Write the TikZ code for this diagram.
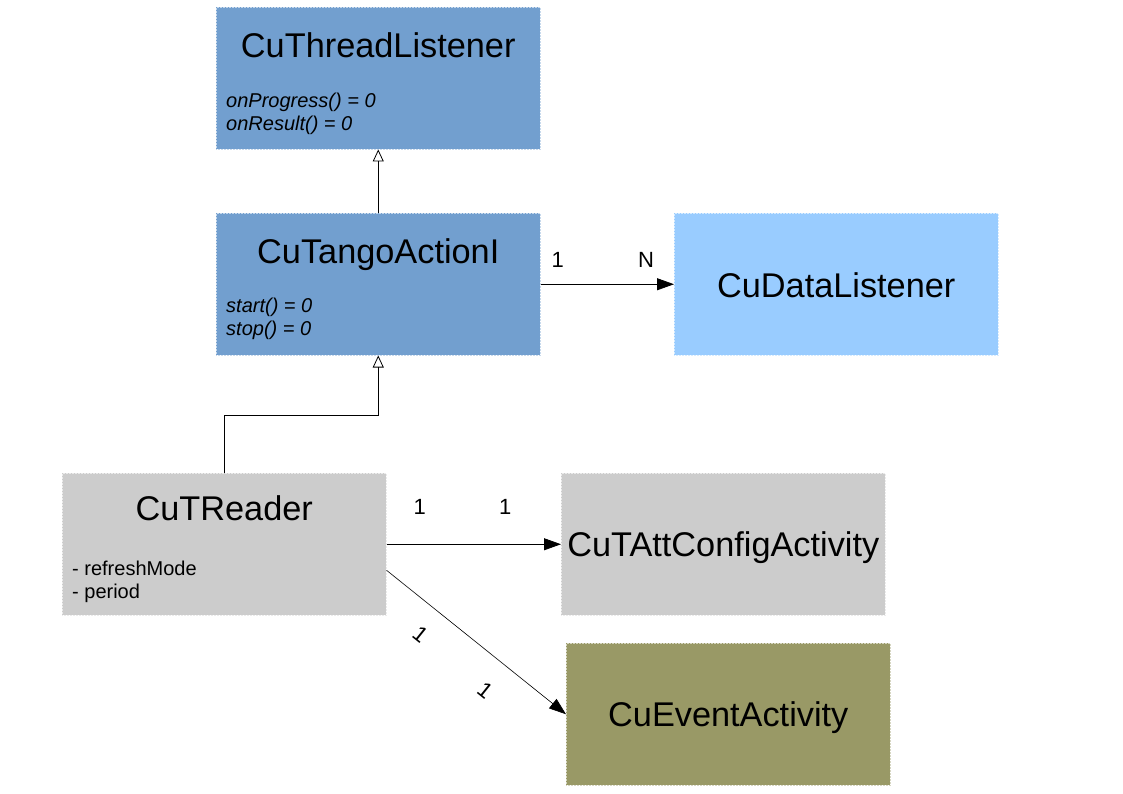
\documentclass[tikz,border=0pt]{standalone}
\usepackage{fontspec}
\setmainfont{Liberation Sans}
\usepackage{xcolor}
\usepackage{tikz}
\usetikzlibrary{arrows.meta}

\definecolor{ifaceblue}{HTML}{729FCF}
\definecolor{listenblue}{HTML}{99CCFF}
\definecolor{readgray}{HTML}{CCCCCC}
\definecolor{eventolive}{HTML}{999966}

\tikzset{
  classbox/.style={fill=#1, draw=#1!40!white, densely dotted, line width=0.5pt,
    minimum width=324pt, minimum height=142pt, anchor=north west, inner sep=0pt},
  classname/.style={inner sep=0pt, font=\fontsize{34.3}{40}\selectfont},
  members/.style={inner sep=0pt, anchor=north west, align=left, font=\fontsize{20}{23}\selectfont},
  mult/.style={inner sep=0pt, font=\fontsize{22}{26}\selectfont},
  inherit/.style={line width=0.8pt, -{Triangle[open, length=12pt, width=11pt]}},
  assoc/.style={line width=0.8pt, -{Triangle[length=17pt, width=12pt]}},
}

\begin{document}
\begin{tikzpicture}[x=1pt, y=-1pt]
  \useasboundingbox (0,0) rectangle (1123,794);

  % classes
  \node[classbox=ifaceblue] (thl) at (216,7) {};
  \node[classname] (thl-name) at ([yshift=-38pt]thl.north) {CuThreadListener};
  \node[members] (thl-ops) at ([xshift=10pt,yshift=-86pt]thl.north west)
    {\itshape onProgress() = 0\\\itshape onResult() = 0};

  \node[classbox=ifaceblue] (tai) at (216,213) {};
  \node[classname] (tai-name) at ([yshift=-42pt]tai.north) {CuTangoActionI};
  \node[members] (tai-ops) at ([xshift=10pt,yshift=-85pt]tai.north west)
    {\itshape start() = 0\\\itshape stop() = 0};

  \node[classbox=listenblue] (dl) at (674,213) {};
  \node[classname] (dl-name) at ([yshift=-1pt]dl.center) {CuDataListener};

  \node[classbox=readgray] (rdr) at (62,473) {};
  \node[classname] (rdr-name) at ([yshift=-35pt]rdr.north) {CuTReader};
  \node[members] (rdr-attr) at ([xshift=10pt,yshift=-88pt]rdr.north west)
    {- refreshMode\\- period};

  \node[classbox=readgray] (cfg) at (561,473) {};
  \node[classname] (cfg-name) at ([yshift=-3pt]cfg.center) {CuTAttConfigActivity};

  \node[classbox=eventolive] (evt) at (566,643) {};
  \node[classname] (evt-name) at ([yshift=-3pt]evt.center) {CuEventActivity};

  % inheritance
  \draw[inherit] (tai.north) -- (thl.south);
  \draw[inherit] (rdr.north) -- ++(0,-58) -| (tai.south);

  % associations
  \draw[assoc] (tai) -- (dl)
    node[mult, pos=0.13, above=16pt] (m1) {1}
    node[mult, pos=0.79, above=16pt] (m2) {N};
  \draw[assoc] (rdr) -- (cfg)
    node[mult, pos=0.19, above=29pt] (m3) {1}
    node[mult, pos=0.68, above=29pt] (m4) {1};
  \draw[assoc, line width=0.6pt] ([yshift=-26pt]rdr.east) -- (evt.west)
    node[mult, pos=0.29, sloped, below=21pt] (m5) {1}
    node[mult, pos=0.66, sloped, below=24pt] (m6) {1};
\end{tikzpicture}
\end{document}
